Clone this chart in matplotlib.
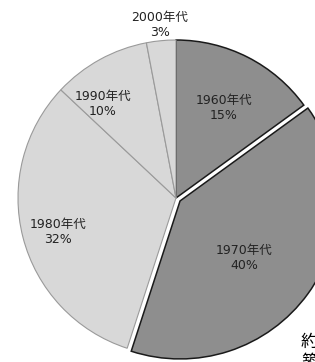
import matplotlib
matplotlib.use("Agg")
import matplotlib.pyplot as plt

plt.rcParams['font.family'] = ['DejaVu Sans', 'Noto Sans CJK JP']

##data
decades = ["1960年代", "1970年代", "1980年代", "1990年代", "2000年代"]
shares = [15, 40, 32, 10, 3]
explode = [0, 5, 0, 0, 0]   # in pixels, pie() does not scale it by radius
colors = ["#8e8e8e", "#8e8e8e", "#d8d8d8", "#d8d8d8", "#d8d8d8"]
edges = ["#1a1a1a", "#1a1a1a", "#9a9a9a", "#9a9a9a", "#9a9a9a"]

fig = plt.figure(figsize=(3.15, 3.62), dpi=100)
ax = fig.add_axes([0, 0, 1, 1])

cx, cy, r = 176, 362 - 198, 158
wedges, _ = ax.pie(shares, explode=explode, colors=colors, startangle=90,
                   counterclock=False, center=(cx, cy), radius=r,
                   wedgeprops=dict(linewidth=0.8))
for w, ec in zip(wedges, edges):
    w.set_edgecolor(ec)
wedges[0].set_linewidth(1.1)
wedges[1].set_linewidth(1.1)
wedges[1].set_zorder(3)

# pie() resets the limits, so set them afterwards
ax.set_xlim(0, 315)
ax.set_ylim(0, 362)
ax.set_aspect("equal")
ax.axis("off")

##labels (pixel positions from the picture)
label_pos = [(224, 108), (244, 258), (58, 232), (103, 104), (160, 25)]
for name, v, (x, y) in zip(decades, shares, label_pos):
    ax.text(x, 362 - y, name + "\n" + str(v) + "%", ha="center", va="center",
            fontsize=9, color="#222222", linespacing=1.2, zorder=5)

# cut-off text on the right edge
ax.text(301, 362 - 342, "約", fontsize=12.5, ha="left", va="center", color="black")
ax.text(301, 362 - 362, "築", fontsize=12.5, ha="left", va="center", color="black")

fig.savefig("out.png", dpi=100)
